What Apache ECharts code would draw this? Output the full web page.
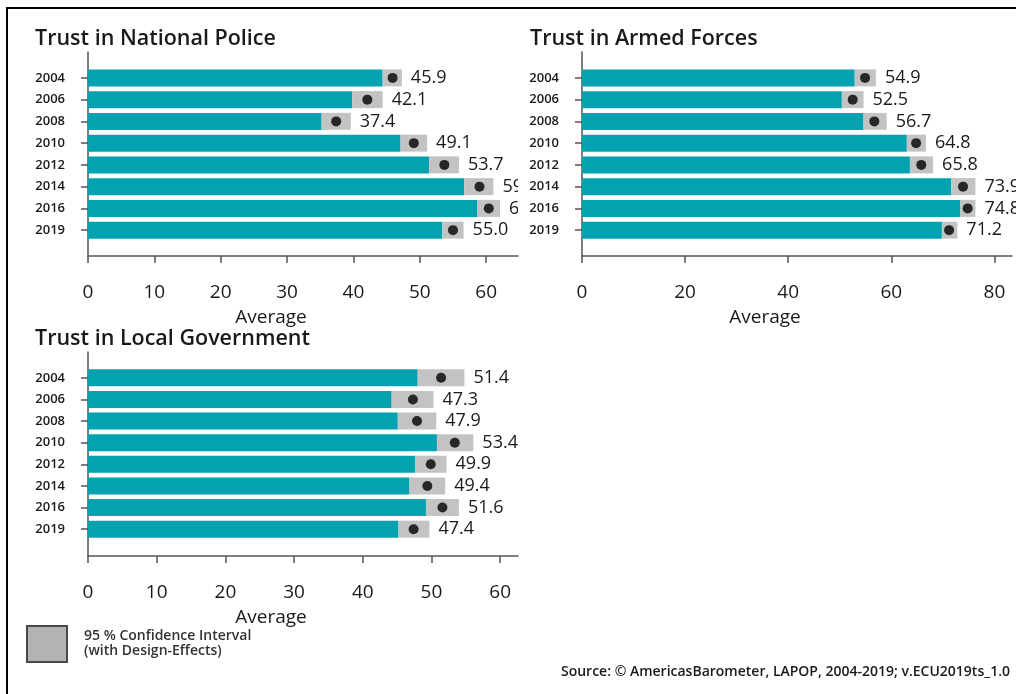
<!DOCTYPE html>
<html>
<head>
<meta charset="utf-8">
<style>
  html, body { margin: 0; padding: 0; background: #fff; }
  #chart { width: 1016px; height: 694px; }
</style>
<script src="https://cdn.jsdelivr.net/npm/echarts@6/dist/echarts.min.js"></script>
</head>
<body>
<div id="chart"></div>
<script>
// survey waves
const years = ['2004', '2006', '2008', '2010', '2012', '2014', '2016', '2019'];

// Trust in National Police
const policeMean = [45.9, 42.1, 37.4, 49.1, 53.7, 59.0, 60.4, 55.0];
const policeLow  = [44.4, 39.8, 35.2, 47.1, 51.4, 56.7, 58.7, 53.4];
const policeHigh = [47.3, 44.4, 39.6, 51.1, 55.9, 61.1, 62.1, 56.6];
const policeTicks = [0, 10, 20, 30, 40, 50, 60];

// Trust in Armed Forces
const armedMean = [54.9, 52.5, 56.7, 64.8, 65.8, 73.9, 74.8, 71.2];
const armedLow  = [52.9, 50.4, 54.6, 63.0, 63.6, 71.6, 73.4, 69.8];
const armedHigh = [57.0, 54.6, 59.1, 66.7, 68.1, 76.3, 76.3, 72.8];
const armedTicks = [0, 20, 40, 60, 80];

// Trust in Local Government
const localMean = [51.4, 47.3, 47.9, 53.4, 49.9, 49.4, 51.6, 47.4];
const localLow  = [48.0, 44.2, 45.1, 50.8, 47.6, 46.8, 49.2, 45.2];
const localHigh = [54.8, 50.3, 50.7, 56.1, 52.2, 52.0, 54.0, 49.7];
const localTicks = [0, 10, 20, 30, 40, 50, 60];

const TEAL = '#03A2B1';
const GREY = '#C3C3C3';
const AXIS = '#555';
const INK = '#1a1a1a';
const FONT = "'Open Sans', sans-serif";

const panels = [
  { title: 'Trust in National Police', mean: policeMean, low: policeLow, high: policeHigh,
    ticks: policeTicks, max: 64.8, clip: true,
    titlePos: { left: 35, top: 28 },
    frame: { left: 88, right: 498, top: 52, height: 204 },
    bars:  { left: 88, right: 498, top: 67, height: 174 } },
  { title: 'Trust in Armed Forces', mean: armedMean, low: armedLow, high: armedHigh,
    ticks: armedTicks, max: 83.4, clip: false,
    titlePos: { left: 530, top: 28 },
    frame: { left: 582, right: 4, top: 52, height: 204 },
    bars:  { left: 582, right: 4, top: 67, height: 174 } },
  { title: 'Trust in Local Government', mean: localMean, low: localLow, high: localHigh,
    ticks: localTicks, max: 62.6, clip: true,
    titlePos: { left: 35, top: 328 },
    frame: { left: 88, right: 498, top: 352, height: 204 },
    bars:  { left: 88, right: 498, top: 367, height: 173 } }
];

const grid = [], xAxis = [], yAxis = [], series = [], title = [];

panels.forEach((p, i) => {
  const f = 2 * i, b = 2 * i + 1;
  grid.push(p.frame, p.bars);
  title.push({
    text: p.title, left: p.titlePos.left, top: p.titlePos.top, padding: 0,
    textStyle: { fontFamily: FONT, fontSize: 21.5, fontWeight: 600, color: INK }
  });

  // frame axes: x scale with ticks/labels, plain y line
  xAxis.push({
    gridIndex: f, type: 'value', min: 0, max: p.max,
    axisLine: { show: true, onZero: false, lineStyle: { color: AXIS, width: 1.5 } },
    axisTick: { show: true, length: 7, customValues: p.ticks, lineStyle: { color: AXIS, width: 1.5 } },
    axisLabel: { customValues: p.ticks, margin: 27, fontFamily: FONT, fontSize: 19, color: INK },
    splitLine: { show: false },
    name: 'Average', nameLocation: 'middle', nameGap: 52,
    nameTextStyle: { fontFamily: FONT, fontSize: 19, color: INK, padding: [0, 64, 0, 0] }
  });
  yAxis.push({
    gridIndex: f, type: 'value', min: 0, max: 1,
    axisLine: { show: true, onZero: false, lineStyle: { color: AXIS, width: 1.5 } },
    axisTick: { show: false }, axisLabel: { show: false }, splitLine: { show: false }
  });

  // bar axes
  xAxis.push({ gridIndex: b, type: 'value', min: 0, max: p.max, show: false });
  yAxis.push({
    gridIndex: b, type: 'category', data: years, inverse: true,
    axisLine: { show: false },
    axisTick: { show: true, alignWithLabel: true, length: 7, lineStyle: { color: AXIS, width: 1.5 } },
    axisLabel: { margin: 23, fontFamily: FONT, fontSize: 13, fontWeight: 600, color: INK }
  });

  series.push({
    type: 'bar', xAxisIndex: b, yAxisIndex: b, stack: 'ci' + i, silent: true,
    barWidth: 17, itemStyle: { color: TEAL }, data: p.low
  });
  series.push({
    type: 'bar', xAxisIndex: b, yAxisIndex: b, stack: 'ci' + i, silent: true,
    barWidth: 17, itemStyle: { color: GREY },
    data: p.high.map((h, k) => +(h - p.low[k]).toFixed(1))
  });
  series.push({
    type: 'scatter', xAxisIndex: b, yAxisIndex: b, silent: true,
    symbolSize: 10, itemStyle: { color: '#000' },
    data: p.mean.map((m, k) => [m, k])
  });
  series.push({
    type: 'custom', xAxisIndex: b, yAxisIndex: b, silent: true, clip: p.clip,
    encode: { x: 0, y: 1 },
    data: p.high.map((h, k) => [h, k, p.mean[k]]),
    renderItem: (params, api) => {
      const pt = api.coord([api.value(0), api.value(1)]);
      return {
        type: 'text', x: pt[0] + 9, y: pt[1],
        style: {
          text: api.value(2).toFixed(1), fill: INK,
          fontFamily: FONT, fontSize: 18, verticalAlign: 'middle', align: 'left'
        }
      };
    }
  });
});

const chart = echarts.init(document.getElementById('chart'));
chart.setOption({
  backgroundColor: '#fff',
  animation: false,
  title: title,
  grid: grid,
  xAxis: xAxis,
  yAxis: yAxis,
  series: series,
  graphic: [
    { type: 'polyline', silent: true,
      shape: { points: [[7, 700], [7, 8], [1020, 8]] },
      style: { stroke: '#000', lineWidth: 2, fill: null } },
    { type: 'rect', silent: true,
      shape: { x: 27, y: 626, width: 40, height: 36 },
      style: { fill: '#B3B3B3', stroke: '#4a4a4a', lineWidth: 2 } },
    { type: 'text', silent: true, x: 84, y: 628,
      style: { text: '95 % Confidence Interval\n(with Design-Effects)', fill: '#333',
               fontFamily: FONT, fontSize: 14, fontWeight: 600, lineHeight: 15.5 } },
    { type: 'text', silent: true, x: 1010, y: 672,
      style: { text: 'Source: © AmericasBarometer, LAPOP, 2004-2019; v.ECU2019ts_1.0', fill: INK,
               fontFamily: FONT, fontSize: 14, fontWeight: 600, align: 'right', verticalAlign: 'middle' } }
  ]
});
</script>
</body>
</html>
